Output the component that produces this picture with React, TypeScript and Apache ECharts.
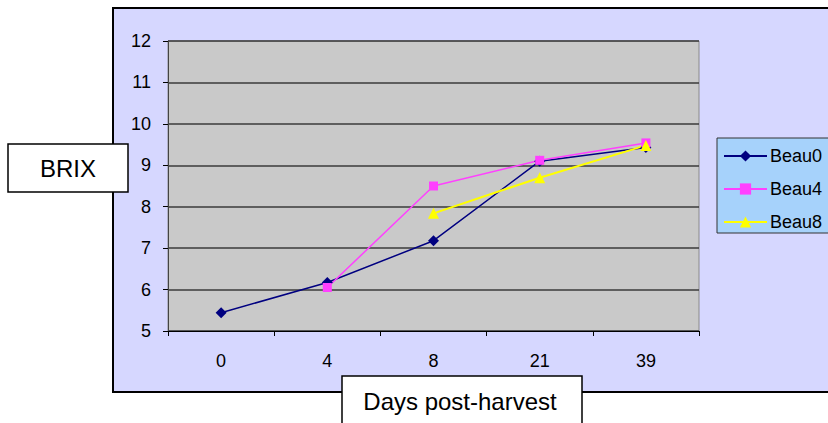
import React, { useEffect, useRef } from "react";
import * as echarts from "echarts";

const categories = ["0", "4", "8", "21", "39"];
const beau0 = [5.44, 6.17, 7.18, 9.1, 9.43];
const beau4 = [null, 6.05, 8.5, 9.12, 9.54];
const beau8 = [null, null, 7.84, 8.7, 9.48];
const seriesNames = ["Beau0", "Beau4", "Beau8"];
const yTicks = { min: 5, max: 12, interval: 1 };

export default function App() {
  const ref = useRef<HTMLDivElement>(null);
  useEffect(() => {
    if (!ref.current) return;
    const chart = echarts.init(ref.current, null, { renderer: "svg" });
    const font = "Liberation Sans, Arial, sans-serif";
    chart.setOption({
      animation: false,
      textStyle: { fontFamily: font },
      graphic: [
        {
          type: "rect",
          z: -10,
          shape: { x: 113, y: 8, width: 740, height: 384 },
          style: { fill: "#d6d7ff", stroke: "#000", lineWidth: 2 },
        },
        {
          type: "rect",
          z: 50,
          shape: { x: 717, y: 138, width: 130, height: 95 },
          style: { fill: "#a6d2fb", stroke: "#333", lineWidth: 1 },
        },
        {
          type: "group",
          z: 100,
          children: [
            {
              type: "rect",
              shape: { x: 8, y: 144, width: 120, height: 48 },
              style: { fill: "#fff", stroke: "#000", lineWidth: 1.5 },
            },
            {
              type: "text",
              x: 68,
              y: 168,
              style: {
                text: "BRIX",
                font: "24px " + font,
                fill: "#000",
                align: "center",
                verticalAlign: "middle",
              },
            },
            {
              type: "rect",
              shape: { x: 342, y: 376, width: 240, height: 60 },
              style: { fill: "#fff", stroke: "#000", lineWidth: 1.5 },
            },
            {
              type: "text",
              x: 460,
              y: 401,
              style: {
                text: "Days post-harvest",
                font: "24px " + font,
                fill: "#000",
                align: "center",
                verticalAlign: "middle",
              },
            },
          ],
        },
      ],
      legend: {
        z: 60,
        orient: "vertical",
        left: 723,
        top: 147,
        itemWidth: 43,
        itemHeight: 14,
        itemGap: 15,
        padding: 0,
        textStyle: { fontSize: 18, color: "#000", fontFamily: font, padding: [0, 0, 0, -2] },
        data: seriesNames,
      },
      grid: {
        left: 168,
        top: 41,
        width: 531,
        height: 290,
        show: true,
        backgroundColor: "#c9c9c9",
        borderColor: "#8a8a8a",
        borderWidth: 1,
      },
      xAxis: {
        type: "category",
        data: categories,
        boundaryGap: true,
        axisLine: { lineStyle: { color: "#000", width: 1 } },
        axisTick: { show: true, length: 5, lineStyle: { color: "#000" } },
        axisLabel: { fontSize: 18, color: "#000", margin: 21, fontFamily: font },
      },
      yAxis: {
        type: "value",
        min: yTicks.min,
        max: yTicks.max,
        interval: yTicks.interval,
        axisLine: { show: true, lineStyle: { color: "#444", width: 1 } },
        axisTick: { show: true, length: 5, lineStyle: { color: "#000" } },
        axisLabel: { fontSize: 18, color: "#000", margin: 17, fontFamily: font },
        splitLine: { show: true, lineStyle: { color: "#3a3a3a", width: 1.5 } },
      },
      series: [
        {
          name: seriesNames[0],
          type: "line",
          data: beau0,
          symbol: "diamond",
          symbolSize: 11,
          color: "#000080",
          lineStyle: { color: "#000080", width: 1.5 },
          itemStyle: { color: "#000080" },
        },
        {
          name: seriesNames[1],
          type: "line",
          data: beau4,
          symbol: "rect",
          symbolSize: 9,
          color: "#ff40ff",
          lineStyle: { color: "#ff40ff", width: 1.5 },
          itemStyle: { color: "#ff40ff" },
        },
        {
          name: seriesNames[2],
          type: "line",
          data: beau8,
          symbol: "triangle",
          symbolSize: 11,
          color: "#ffff00",
          lineStyle: { color: "#ffff00", width: 2 },
          itemStyle: { color: "#ffff00" },
        },
      ],
    });
    return () => chart.dispose();
  }, []);
  return (
    <div
      ref={ref}
      style={{ position: "absolute", left: 0, top: 0, width: 828, height: 423 }}
    />
  );
}
